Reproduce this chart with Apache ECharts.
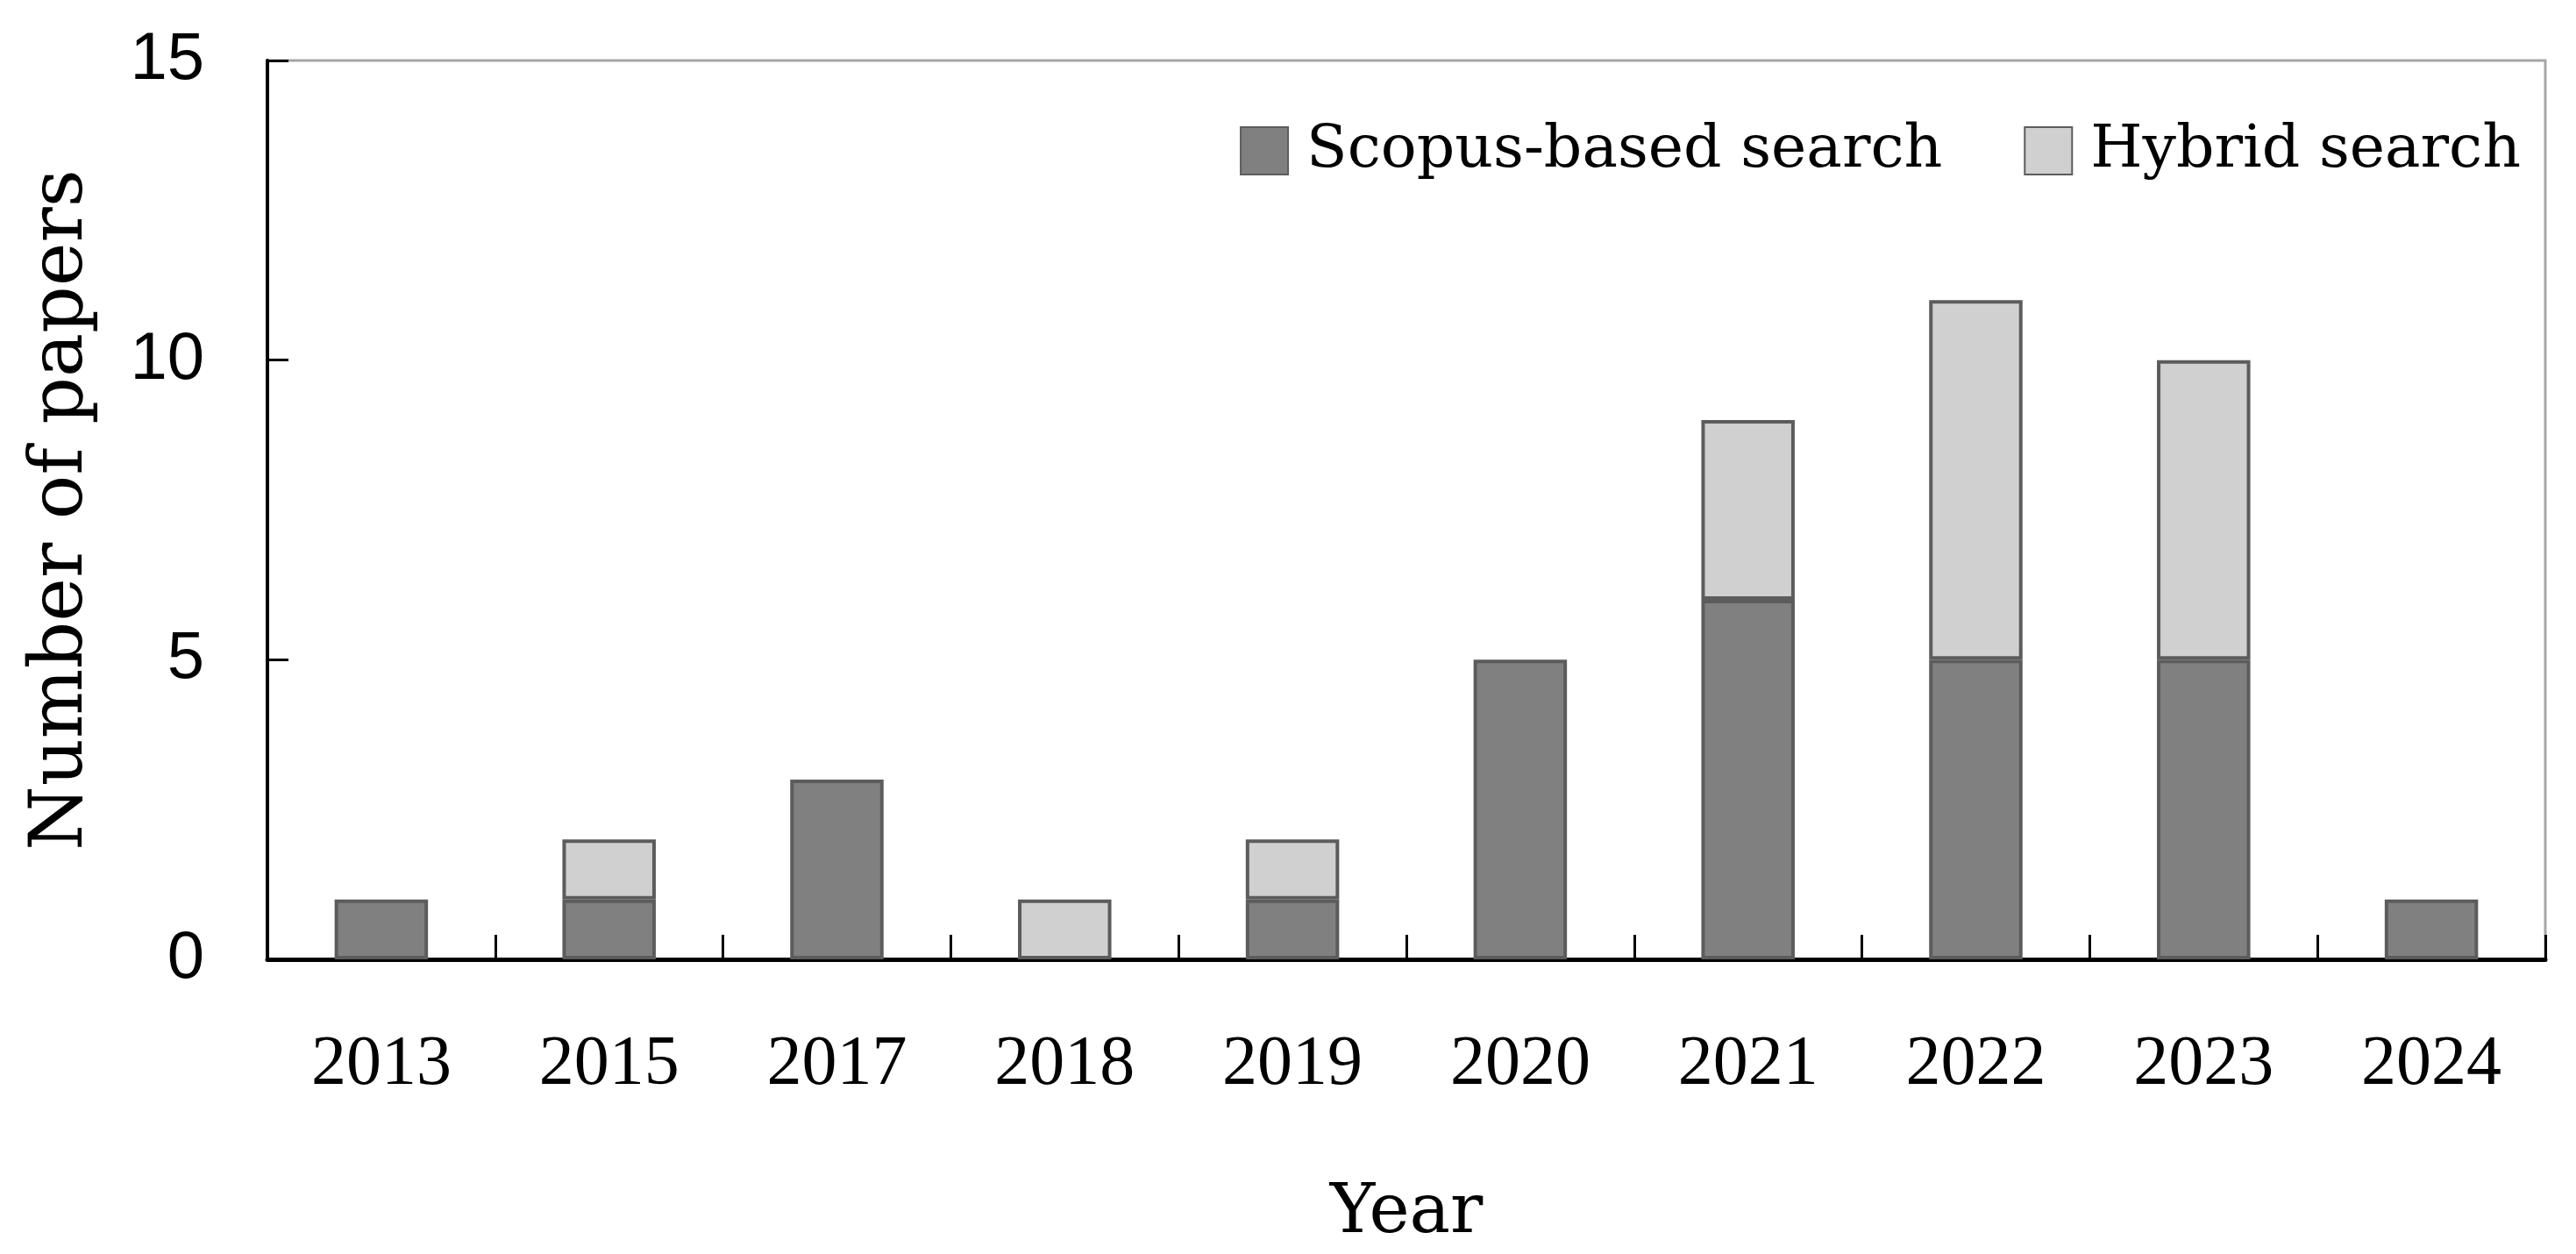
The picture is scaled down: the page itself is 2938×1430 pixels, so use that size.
<!DOCTYPE html>
<html>
<head>
<meta charset="utf-8">
<script src="https://cdn.jsdelivr.net/npm/echarts@6/dist/echarts.min.js"></script>
<style>
html, body { margin: 0; padding: 0; background: #fff; }
#main { width: 2938px; height: 1430px; }
</style>
</head>
<body>
<div id="main"></div>
<script>
var years = ['2013', '2015', '2017', '2018', '2019', '2020', '2021', '2022', '2023', '2024'];
var scopusData = [1, 1, 3, 0, 1, 5, 6, 5, 5, 1];
var hybridData = [0, 1, 0, 1, 1, 0, 3, 6, 5, 0];
var yTicks = [0, 5, 10, 15];

var chart = echarts.init(document.getElementById('main'));

// zero segments are left out so no empty outline is drawn
function noZero(arr) {
	return arr.map(function (v) { return v === 0 ? '-' : v; });
}

var option = {
	backgroundColor: '#fff',
	animation: false,
	grid: {
		left: 305,
		right: 35,
		top: 69,
		bottom: 336,
		show: true,
		borderColor: '#a6a6a6',
		borderWidth: 3
	},
	legend: {
		right: 58,
		top: 133,
		itemWidth: 54,
		itemHeight: 54,
		itemGap: 93,
		icon: 'rect',
		textStyle: {
			fontFamily: 'DejaVu Serif',
			fontSize: 68,
			color: '#000',
			padding: [0, 0, 0, 16]
		},
		data: ['Scopus-based search', 'Hybrid search']
	},
	xAxis: {
		type: 'category',
		data: years,
		name: 'Year',
		nameLocation: 'middle',
		nameGap: 252,
		nameTextStyle: {
			fontFamily: 'DejaVu Serif',
			fontSize: 78,
			color: '#000'
		},
		axisLine: {
			lineStyle: { color: '#000', width: 5 }
		},
		axisTick: {
			show: true,
			inside: true,
			interval: 0,
			length: 28,
			lineStyle: { color: '#000', width: 3 }
		},
		axisLabel: {
			margin: 81,
			interval: 0,
			fontFamily: 'Liberation Serif',
			fontSize: 80,
			color: '#000'
		},
		splitLine: { show: false }
	},
	yAxis: {
		type: 'value',
		min: yTicks[0],
		max: yTicks[yTicks.length - 1],
		interval: 5,
		name: 'Number of papers',
		nameLocation: 'middle',
		nameGap: 192,
		nameTextStyle: {
			fontFamily: 'DejaVu Serif',
			fontSize: 84,
			color: '#000'
		},
		axisLine: {
			show: true,
			lineStyle: { color: '#000', width: 4 }
		},
		axisTick: {
			show: true,
			inside: true,
			length: 24,
			lineStyle: { color: '#000', width: 3 }
		},
		axisLabel: {
			margin: 72,
			fontFamily: 'Liberation Sans',
			fontSize: 76,
			color: '#000'
		},
		splitLine: { show: false }
	},
	series: [
		{
			name: 'Scopus-based search',
			type: 'bar',
			stack: 'total',
			barWidth: '41%',
			data: noZero(scopusData),
			itemStyle: {
				color: '#808080',
				borderColor: '#5c5c5c',
				borderWidth: 4
			}
		},
		{
			name: 'Hybrid search',
			type: 'bar',
			stack: 'total',
			barWidth: '41%',
			data: noZero(hybridData),
			itemStyle: {
				color: '#d0d0d0',
				borderColor: '#5c5c5c',
				borderWidth: 4
			}
		}
	]
};

chart.setOption(option);
</script>
</body>
</html>
